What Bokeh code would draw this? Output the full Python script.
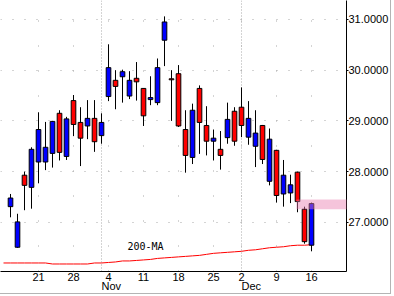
from bokeh.plotting import figure
from bokeh.models import (ColumnDataSource, FixedTicker, NumeralTickFormatter, Range1d,
                          Span, BoxAnnotation, LinearAxis)
from bokeh.core.properties import value
from bokeh.embed import file_html
from bokeh.resources import INLINE

# ---- data -------------------------------------------------------------
dates = ["2002-10-14", "2002-10-15", "2002-10-16", "2002-10-17", "2002-10-18",
         "2002-10-21", "2002-10-22", "2002-10-23", "2002-10-24", "2002-10-25",
         "2002-10-28", "2002-10-29", "2002-10-30", "2002-10-31", "2002-11-01",
         "2002-11-04", "2002-11-05", "2002-11-06", "2002-11-07", "2002-11-08",
         "2002-11-11", "2002-11-12", "2002-11-13", "2002-11-14", "2002-11-15",
         "2002-11-18", "2002-11-19", "2002-11-20", "2002-11-21", "2002-11-22",
         "2002-11-25", "2002-11-26", "2002-11-27", "2002-11-29",
         "2002-12-02", "2002-12-03", "2002-12-04", "2002-12-05", "2002-12-06",
         "2002-12-09", "2002-12-10", "2002-12-11", "2002-12-12", "2002-12-13",
         "2002-12-16"]
candle_dates = dates[1:]

opens = [27.31, 26.51, 27.93, 27.69, 28.19, 28.19, 28.36, 29.15, 28.30, 29.40,
         28.97, 28.90, 29.05, 28.71, 29.48, 29.80, 29.87, 29.49, 29.84, 29.64,
         29.42, 29.36, 30.59, 29.83, 29.93, 28.83, 28.28, 29.64, 28.91, 28.60,
         28.44, 28.67, 29.19, 29.27, 28.68, 28.50, 28.91, 27.81, 28.42, 27.56,
         27.58, 27.99, 27.26, 26.55]
closes = [27.48, 27.01, 27.73, 28.44, 28.83, 28.48, 28.99, 28.38, 29.04, 28.93,
          28.66, 29.05, 28.59, 28.97, 30.05, 29.68, 29.97, 29.80, 29.77, 29.10,
          29.46, 30.05, 30.95, 29.81, 28.90, 28.32, 29.21, 28.97, 28.60, 28.66,
          28.32, 29.03, 28.60, 28.91, 29.05, 28.76, 28.24, 28.64, 27.53, 27.93,
          27.74, 27.41, 26.62, 27.37]
highs = [27.56, 27.17, 28.00, 28.48, 29.17, 28.98, 29.00, 29.21, 29.08, 29.51,
         29.27, 29.41, 29.41, 29.15, 30.51, 30.00, 30.01, 29.98, 30.16, 29.64,
         29.88, 30.23, 31.06, 30.00, 30.10, 29.21, 29.34, 29.70, 29.29, 28.83,
         28.80, 29.36, 29.27, 29.66, 29.39, 29.21, 28.92, 28.85, 28.43, 28.23,
         27.94, 28.00, 27.31, 27.39]
lows = [27.10, 26.50, 27.24, 27.27, 27.77, 28.03, 28.08, 28.22, 28.23, 28.70,
        28.11, 28.64, 28.39, 28.55, 29.39, 29.23, 29.36, 29.43, 29.40, 28.90,
        29.31, 29.31, 30.08, 29.00, 28.88, 27.98, 28.15, 28.35, 28.32, 28.22,
        28.04, 28.55, 28.51, 28.68, 28.53, 28.09, 28.15, 27.73, 27.39, 27.31,
        27.38, 27.20, 26.58, 26.43]
ma200 = [26.20, 26.20, 26.20, 26.20, 26.20, 26.20, 26.20, 26.18, 26.18, 26.18,
         26.18, 26.18, 26.18, 26.20, 26.20, 26.21, 26.22, 26.24, 26.24, 26.25,
         26.26, 26.27, 26.29, 26.30, 26.31, 26.32, 26.33, 26.34, 26.35, 26.37,
         26.39, 26.40, 26.41, 26.42, 26.43, 26.45, 26.46, 26.48, 26.50, 26.51,
         26.52, 26.54, 26.55, 26.55, 26.56]

tick_dates = ["2002-10-21", "2002-10-28", "2002-11-04", "2002-11-11", "2002-11-18",
              "2002-11-25", "2002-12-02", "2002-12-09", "2002-12-16"]
tick_labels = ["21", "28", "4", "11", "18", "25", "2", "9", "16"]
month_starts = ["2002-11-01", "2002-12-02"]
month_labels = ["Nov", "Dec"]
price_ticks = [27, 28, 29, 30, 31]

band_start = "2002-12-12"
band_low, band_high = 27.26, 27.45
ma_label = "200-MA"
ma_label_date = "2002-11-07"

# ---- layout / style ---------------------------------------------------
W, H = 391, 294
X_START, X_END = -0.43, 49.0
Y_START, Y_END = 26.032, 31.373
BAND_RIGHT = 50.1
MONTH_SHIFT = 1.39          # centre of a left-aligned month name, in days
UP, DOWN = "#0000FF", "#FF0000"
FONT = "Liberation Sans"
GRID = "#A8A8A8"

pos = {d: i for i, d in enumerate(dates)}
cx = [pos[d] for d in candle_dates]
colors = [UP if c >= o else DOWN for o, c in zip(opens, closes)]
src = ColumnDataSource(dict(
    x=cx, top=[max(o, c) for o, c in zip(opens, closes)],
    bottom=[min(o, c) for o, c in zip(opens, closes)],
    high=highs, low=lows, color=colors))

p = figure(width=W, height=H, output_backend="svg", toolbar_location=None,
           x_range=Range1d(X_START, X_END), y_range=Range1d(Y_START, Y_END),
           y_axis_location="right", min_border_left=0, min_border_top=0,
           min_border_right=45, min_border_bottom=22)
p.outline_line_color = None
p.background_fill_color = "white"
p.border_fill_color = "white"
p.styles = {"border-right": "1px solid #B4B4B4", "border-bottom": "1px solid #B4B4B4"}

# grid
p.ygrid.ticker = FixedTicker(ticks=price_ticks, minor_ticks=[])
p.ygrid.grid_line_color = GRID
p.ygrid.grid_line_dash = "1 11"
p.xgrid.ticker = FixedTicker(ticks=[pos[d] for d in tick_dates], minor_ticks=[])
p.xgrid.grid_line_color = GRID
p.xgrid.grid_line_dash = "1 24"

for m in month_starts:
    p.add_layout(Span(location=pos[m], dimension="height", line_color=GRID,
                      line_dash="1 2", line_width=1, level="underlay"))

# axes
ya = p.yaxis[0]
ya.ticker = FixedTicker(ticks=price_ticks, minor_ticks=[])
ya.formatter = NumeralTickFormatter(format="0.0000")
ya.major_tick_out = 2
ya.major_tick_in = 0
ya.minor_tick_out = 0
ya.major_label_standoff = 0
ya.major_label_text_font = FONT
ya.major_label_text_font_size = "11px"
ya.major_label_text_color = "black"
ya.axis_line_color = "black"

xa = p.xaxis[0]
xa.ticker = FixedTicker(ticks=[pos[d] for d in tick_dates], minor_ticks=[])
xa.major_label_overrides = {pos[d]: l for d, l in zip(tick_dates, tick_labels)}
xa.major_tick_out = 0
xa.major_tick_in = 0
xa.minor_tick_out = 0
xa.major_label_standoff = 1
xa.major_label_text_font = FONT
xa.major_label_text_font_size = "11px"
xa.major_label_text_color = "black"
xa.axis_line_color = "black"

# second row of the date axis: month names starting at the month's first day
month_ticks = [pos[m] + MONTH_SHIFT for m in month_starts]
mx = LinearAxis(ticker=FixedTicker(ticks=month_ticks, minor_ticks=[]),
                major_label_overrides={t: l for t, l in zip(month_ticks, month_labels)},
                axis_line_color=None, major_tick_line_color=None,
                minor_tick_line_color=None, major_tick_out=0, major_tick_in=0,
                minor_tick_out=0, major_label_standoff=-4,
                major_label_text_font=FONT, major_label_text_font_size="11px",
                major_label_text_color="black")
p.add_layout(mx, "below")

# 200-day moving average
p.line(x=list(range(len(dates))), y=ma200, line_color="#FF0000", line_width=1)

# candles
p.segment(x0="x", y0="low", x1="x", y1="high", source=src, line_color="black", line_width=1)
p.vbar(x="x", top="top", bottom="bottom", width=0.66, source=src,
       fill_color="color", line_color="black", line_width=1)

# label of the moving average
mi = pos[ma_label_date]
p.text(x=[mi], y=[ma200[mi]], text=[ma_label], text_font=value("DejaVu Sans Mono"),
       text_font_size="10px", text_color="black", text_align="left",
       text_baseline="middle", x_offset=-2, y_offset=-14)

# highlighted zone
p.add_layout(BoxAnnotation(left=pos[band_start] - 0.15, right=BAND_RIGHT,
                           bottom=band_low, top=band_high,
                           fill_color="#E87DB0", fill_alpha=0.45, line_color=None))

open("out.html", "w").write(file_html(p, INLINE))
